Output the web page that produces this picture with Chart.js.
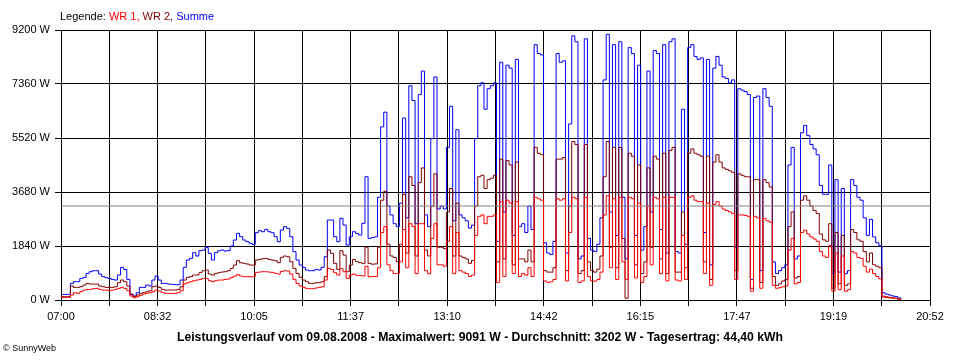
<!DOCTYPE html>
<html>
<head>
<meta charset="utf-8">
<script src="https://cdn.jsdelivr.net/npm/chart.js@4.4.1/dist/chart.umd.min.js"></script>
<style>
html,body{margin:0;padding:0;background:#fff;}
#wrap{position:relative;width:960px;height:360px;overflow:hidden;}
#c{position:absolute;left:0;top:0;}
.t{position:absolute;font-family:"Liberation Sans",Arial,sans-serif;white-space:nowrap;color:#000;}
#legend{left:60px;top:10px;font-size:11px;line-height:13px;}
#title{left:0;width:960px;text-align:center;top:330px;font-size:12.2px;line-height:14px;font-weight:bold;}
#copy{left:3px;top:343px;font-size:9px;line-height:11px;}
</style>
</head>
<body>
<div id="wrap">
<canvas id="c" width="960" height="360"></canvas>
<div class="t" id="legend">Legende: <span style="color:#ff0000">WR 1,</span> <span style="color:#800000">WR 2,</span> <span style="color:#0000ff">Summe</span></div>
<div class="t" id="title">Leistungsverlauf vom 09.08.2008 - Maximalwert: 9091 W - Durchschnitt: 3202 W - Tagesertrag: 44,40 kWh</div>
<div class="t" id="copy">© SunnyWeb</div>
</div>
<script>
// time axis: minutes after 07:00, samples every 3 minutes
const SAMPLE_MIN = 3;
const X_MAX_MIN = 832; // 20:52
const X_TICK_LABELS = ["07:00","08:32","10:05","11:37","13:10","14:42","16:15","17:47","19:19","20:52"];
const Y_MAX = 9200;
const Y_STEP = 1840;
const AVERAGE_W = 3202;

const WR1 = [
90,90,90,169,249,226,282,339,362,362,
385,396,362,339,339,316,339,362,396,430,
396,316,135,78,112,158,203,226,249,282,
339,305,249,226,226,226,226,249,316,544,
589,623,657,680,703,737,737,657,623,657,
680,680,703,714,771,817,862,817,794,794,
794,794,941,953,964,964,953,941,907,884,
976,998,987,884,703,566,476,430,396,385,
385,408,430,453,680,1078,1044,930,850,1066,
964,737,850,884,839,839,817,1150,
790,800,800,1100,2300,2500,1200,1000,900,900,
1300,2400,1100,2600,2500,900,2600,2600,1000,900,
2100,2600,1200,1200,1150,2000,2500,900,2300,1000,
950,900,800,850,2200,2850,2900,2600,2850,2850,
2900,600,3350,800,3400,3300,900,3350,800,900,
850,1100,800,3500,3450,3400,650,600,620,700,
3450,3400,3450,650,2300,3500,3450,600,650,3500,
800,650,640,700,950,2900,3550,1100,3450,700,
3500,1300,700,3500,3450,750,3300,600,800,3200,
1200,3500,3450,900,3500,650,3500,3500,680,650,
2200,700,3500,3550,3400,3350,3350,900,3300,500,
3250,3350,3200,3100,3050,3000,2950,700,2900,2900,
2880,2850,300,2850,2800,400,2780,2700,2650,500,
400,420,450,480,1700,2100,550,600,2300,2380,
2250,2150,2080,2000,1650,1500,1450,1850,300,1600,
350,1500,300,350,1650,1600,1450,1420,1150,950,
1050,900,800,720,100,80,70,60,50,25,
8
];

const WR2 = [
112,112,112,476,430,430,453,510,566,544,
544,544,476,453,430,430,430,453,589,680,
623,476,203,112,169,226,249,282,316,453,
476,430,362,339,339,339,339,362,453,680,
771,794,850,850,930,998,1021,884,850,907,
930,953,964,998,1078,1191,1339,1271,1248,1225,
1191,1191,1362,1384,1407,1418,1384,1362,1339,1271,
1452,1498,1475,1305,1078,907,771,680,623,566,
566,589,589,623,794,1703,1589,1248,1044,1680,
1532,964,1191,1384,1305,1271,1248,1800,
1250,1220,1230,1800,3400,3700,1900,1500,1450,1300,
1900,3600,1600,4200,3900,1500,4000,4500,1700,1500,
3200,4300,1800,1800,1750,3000,3800,1500,3300,1500,
1450,1400,1250,1350,3200,4200,4250,3800,4100,4150,
4250,1300,4800,1400,4750,4600,1200,4700,1400,1400,
1300,1700,1300,5200,5000,4950,1000,950,950,1100,
4800,4800,4850,1000,3200,5400,5300,900,1000,5300,
1300,1000,950,1050,1500,4200,5400,1800,5200,1100,
5200,2100,60,5000,4900,1200,4600,900,1300,4500,
1800,4900,4800,1400,5000,900,5100,5200,950,950,
3000,1100,5000,5150,5000,4950,4900,1300,4900,700,
4700,4950,4700,4500,4450,4400,4350,1000,4300,4250,
4200,4200,400,4100,4100,600,4100,4000,3850,800,
500,550,650,700,2500,3000,750,800,3400,3550,
3400,3200,3050,2950,2250,2050,2000,2600,400,2300,
550,2200,500,550,2400,2300,2050,2000,1650,1300,
1600,1200,1150,1100,130,110,90,80,60,35,
10
];

const SUMME = [
192,192,192,566,623,623,737,771,907,964,
998,998,884,794,760,737,703,680,850,1112,
1044,703,192,135,249,430,430,510,476,680,
817,680,566,566,544,532,521,521,680,1112,
1362,1418,1612,1498,1680,1702,1793,1589,1362,1612,
1680,1702,1668,1680,1839,2043,2270,2157,2043,1986,
1930,1895,2293,2361,2327,2407,2327,2293,2157,1986,
2384,2498,2441,2157,1646,1362,1191,1112,1021,998,
998,1044,1021,1112,1475,2725,2725,2157,1986,2782,
2555,1873,2157,2327,2270,2214,2611,4200,
2100,2130,2150,3500,5900,6400,3200,2900,2600,2500,
3300,6200,2800,7300,6800,2600,7000,7800,2900,2500,
5500,7600,3100,3200,3100,5200,6600,2700,5800,2900,
2800,2700,2450,2550,5500,7300,7400,6500,7200,7300,
7400,2000,8100,3000,8000,7900,2200,8200,2500,2600,
2300,3200,2400,8700,8400,8350,1950,1600,1550,2000,
8400,8100,8150,1600,6000,9000,8800,1400,1500,8900,
2100,1700,1650,1900,2800,7500,9050,3000,8700,2200,
8800,3500,1400,8600,8400,2200,8000,1700,2500,7800,
3000,8500,8400,2400,8700,1600,8800,8900,1650,1600,
6500,1900,8600,8700,8300,8200,8250,2300,8200,1200,
7900,8300,8000,7600,7550,7400,7500,1800,7200,7150,
7100,7000,700,6900,6950,1000,7200,6900,6600,1300,
900,1000,1100,1200,4600,5200,1400,1500,5700,5950,
5600,5300,5150,4950,3900,3600,3600,4600,900,4100,
950,3800,900,1000,4100,3900,3500,3400,2800,2200,
2750,2150,1950,1850,250,200,170,140,120,70,
20
];

const toPoints = vals => vals.map((v, i) => ({ x: i * SAMPLE_MIN, y: v }));
const X_TICK_COUNT = (X_TICK_LABELS.length - 1) * 2 + 1;

Chart.defaults.font.family = '"Liberation Sans", Arial, sans-serif';
Chart.defaults.font.size = 11;
Chart.defaults.color = '#000';

const lineDs = (label, vals, color) => ({
  label, data: toPoints(vals), borderColor: color, backgroundColor: color,
  borderWidth: 1, pointRadius: 0, stepped: true, fill: false, tension: 0
});

new Chart(document.getElementById('c'), {
  type: 'line',
  data: {
    datasets: [
      { label: 'Durchschnitt', data: [{ x: 0, y: AVERAGE_W }, { x: X_MAX_MIN, y: AVERAGE_W }],
        borderColor: '#808080', borderWidth: 1, pointRadius: 0, fill: false },
      lineDs('WR 1', WR1, '#ff0000'),
      lineDs('WR 2', WR2, '#800000'),
      lineDs('Summe', SUMME, '#0000ff')
    ]
  },
  options: {
    responsive: false,
    animation: false,
    events: [],
    layout: { padding: { top: 30, right: 30, left: 0, bottom: 0 } },
    plugins: { legend: { display: false }, tooltip: { enabled: false }, title: { display: false } },
    scales: {
      x: {
        type: 'linear', min: 0, max: X_MAX_MIN, z: 1,
        afterBuildTicks: s => {
          const step = X_MAX_MIN / (X_TICK_COUNT - 1);
          s.ticks = Array.from({ length: X_TICK_COUNT }, (_, k) => ({ value: k * step }));
        },
        afterFit: s => { s.height = 60; },
        grid: { color: '#000', lineWidth: 1, tickLength: 6, drawTicks: true },
        border: { color: '#000', width: 1 },
        ticks: {
          autoSkip: false, maxRotation: 0, minRotation: 0, padding: 4, color: '#000',
          callback: (v, i) => (i % 2 === 0 ? X_TICK_LABELS[i / 2] : '')
        }
      },
      y: {
        min: 0, max: Y_MAX, z: 1,
        afterFit: s => { s.width = 61; },
        grid: { color: '#000', lineWidth: 1, tickLength: 6, drawTicks: true },
        border: { color: '#000', width: 1 },
        ticks: { stepSize: Y_STEP, padding: 5, color: '#000', callback: v => v + ' W' }
      }
    }
  }
});
</script>
</body>
</html>
